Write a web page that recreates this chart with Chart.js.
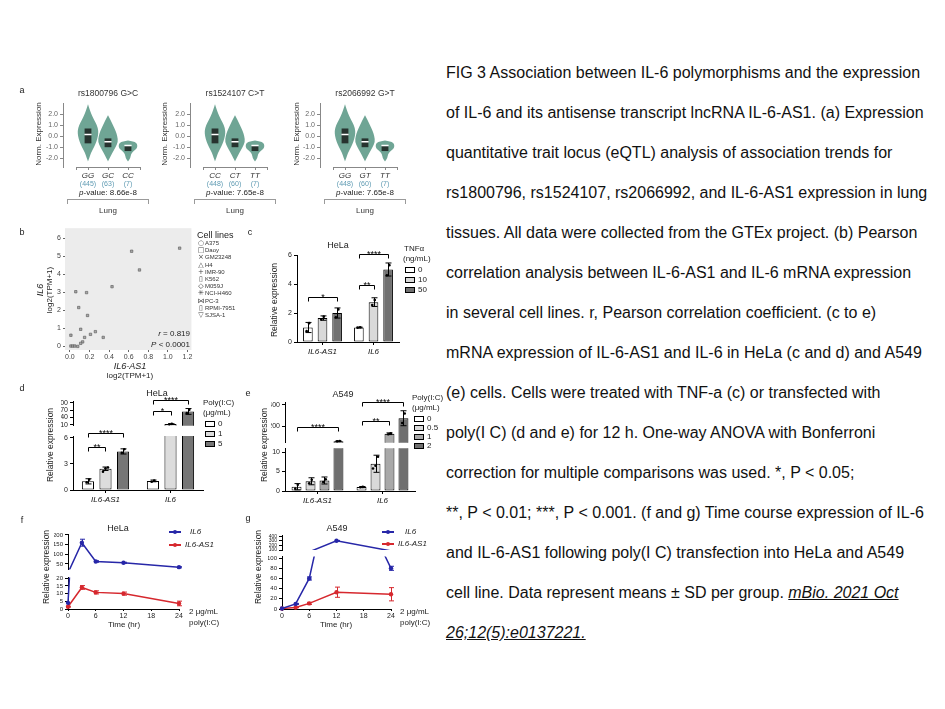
<!DOCTYPE html>
<html>
<head>
<meta charset="utf-8">
<title>FIG 3 IL-6 polymorphisms and IL-6-AS1</title>
<script src="https://cdn.jsdelivr.net/npm/chart.js@4.4.1/dist/chart.umd.min.js"></script>
<style>
  html, body { margin: 0; padding: 0; background: #fff; }
  #stage { position: relative; width: 945px; height: 709px; overflow: hidden;
           font-family: 'Liberation Sans', Arial, sans-serif; color: #222; }
  .lbl { position: absolute; white-space: nowrap; line-height: 1; }
  .sym { font-family: 'DejaVu Sans', sans-serif; }
  .caption { position: absolute; left: 446px; top: 53px; font-size: 16px; line-height: 40px;
             color: #111; white-space: nowrap; }
  .ref { font-style: italic; text-decoration: underline; }
</style>
</head>
<body>
<div id="stage">
  <div class="caption">FIG 3 Association between IL-6 polymorphisms and the expression<br>
of IL-6 and its antisense transcript lncRNA IL-6-AS1. (a) Expression<br>
quantitative trait locus (eQTL) analysis of association trends for<br>
rs1800796, rs1524107, rs2066992, and IL-6-AS1 expression in lung<br>
tissues. All data were collected from the GTEx project. (b) Pearson<br>
correlation analysis between IL-6-AS1 and IL-6 mRNA expression<br>
in several cell lines. r, Pearson correlation coefficient. (c to e)<br>
mRNA expression of IL-6-AS1 and IL-6 in HeLa (c and d) and A549<br>
(e) cells. Cells were treated with TNF-a (c) or transfected with<br>
poly(I C) (d and e) for 12 h. One-way ANOVA with Bonferroni<br>
correction for multiple comparisons was used. *, P &lt; 0.05;<br>
**, P &lt; 0.01; ***, P &lt; 0.001. (f and g) Time course expression of IL-6<br>
and IL-6-AS1 following poly(I C) transfection into HeLa and A549<br>
cell line. Data represent means ± SD per group. <span class="ref">mBio. 2021 Oct </span><br>
<span class="ref">26;12(5):e0137221.</span></div>
</div>
<script>
// ---------- data: panel a (GTEx eQTL, lung) ----------
const snpTitles = ['rs1800796 G>C', 'rs1524107 C>T', 'rs2066992 G>T'];
const snpGenotypes = [['GG', 'GC', 'CC'], ['CC', 'CT', 'TT'], ['GG', 'GT', 'TT']];
const snpCounts = [['(445)', '(63)', '(7)'], ['(448)', '(60)', '(7)'], ['(448)', '(60)', '(7)']];
const snpPValues = ['8.66e-8', '7.65e-8', '7.65e-8'];
const normTicks = [-2, -1, 0, 1, 2];
// violin outlines: expression level and half width (in category units)
const refLevels = [-2.3, -2.0, -1.5, -1.0, -0.5, 0.0, 0.5, 1.0, 1.5, 2.0, 2.5, 2.9];
const refWidths = [0, 0.06, 0.15, 0.3, 0.42, 0.5, 0.52, 0.45, 0.3, 0.17, 0.07, 0];
const hetLevels = [-2.3, -2.0, -1.5, -1.0, -0.5, 0.0, 0.5, 1.0, 1.5, 1.9];
const hetWidths = [0, 0.08, 0.22, 0.38, 0.5, 0.47, 0.38, 0.25, 0.12, 0];
const altLevels = [-2.3, -2.0, -1.6, -1.3, -1.1, -0.8, -0.6, -0.45, -0.4];
const altWidths = [0, 0.12, 0.15, 0.3, 0.45, 0.47, 0.42, 0.25, 0];
const boxLow = [-0.65, -1.0, -1.35];
const boxHigh = [0.7, -0.2, -0.9];
const boxMedian = [0.15, -0.5, -0.85];

// ---------- data: panel b (cell lines correlation) ----------
const cellLines = ['A375', 'Daoy', 'GM23248', 'H4', 'IMR-90', 'K562', 'M059J', 'NCI-H460', 'PC-3', 'RPMI-7951', 'SJSA-1'];
const cellSymbols = ['○', '□', '×', '△', '+', '▯', '◇', '✳', '⋈', '▯', '▽'];
const as1Expr = [1.12, 0.63, 0.71, 0.43, 0.06, 0.17, 0.09, 0.18, 0.11, 0.01, 0.26, 0.21, 0.34, 0.15, 0.13, 0.11, 0.01, 0.03, 0.05, 0.08];
const il6Expr = [5.44, 5.27, 4.23, 3.30, 3.02, 2.97, 2.14, 1.70, 0.93, 0.60, 0.80, 0.65, 0.48, 0.48, 0.23, 0.15, 0.0, 0.0, 0.0, -0.02];
const corrTicksX = [0, 0.2, 0.4, 0.6, 0.8, 1.0, 1.2];
const corrTicksY = [0, 1, 2, 3, 4, 5, 6];

// ---------- data: panels c-e (bars) ----------
const geneGroups = ['IL6-AS1', 'IL6'];
const tnfDoses = ['0', '10', '50'];
const tnfMeans = [[1.0, 1.0], [1.65, 2.75], [2.0, 5.0]];
const tnfSD = [[0.35, 0.03], [0.15, 0.3], [0.35, 0.45]];
const tnfReps = [[[0.75, 1.3], [0.98, 1.02]], [[1.55, 1.75], [2.55, 2.9]], [[1.7, 2.25], [4.6, 5.3]]];
const tnfTicks = [0, 2, 4, 6];
const tnfBrackets = [
  { group: 0, from: 0, to: 2, y: 3.1, label: '*' },
  { group: 1, from: 0, to: 1, y: 3.9, label: '**' },
  { group: 1, from: 0, to: 2, y: 6.1, label: '****' }
];

const helaPolyDoses = ['0', '1', '5'];
const helaPolyMeans = [[1.0, 1.05], [2.45, 13], [4.45, 65]];
const helaPolySD = [[0.3, 0.1], [0.2, 1.5], [0.3, 12]];
const helaPolyReps = [[[0.9, 1.2], [0.95, 1.1]], [[2.1, 2.5, 2.6], [12, 14]], [[4.3, 4.7], [58, 72]]];
const helaLowTicks = [0, 3, 6];
const helaHighTicks = [10, 40, 70, 100];
const helaLowBrackets = [
  { group: 0, from: 0, to: 1, y: 5.0, label: '**' },
  { group: 0, from: 0, to: 2, y: 6.6, label: '****' }
];
const helaHighBrackets = [
  { group: 1, from: 0, to: 1, y: 65, label: '*' },
  { group: 1, from: 0, to: 2, y: 112, label: '****' }
];

const a549PolyDoses = ['0', '0.5', '1', '2'];
const a549PolyMeans = [[1.1, 1.0], [2.5, 7.0], [2.7, 130], [60, 275]];
const a549PolySD = [[0.8, 0.15], [0.9, 2.2], [0.9, 8], [3, 70]];
const a549PolyReps = [[[0.6, 1.6], [0.95, 1.05]], [[2.0, 2.9], [5.8, 6.5, 8.8]], [[2.3, 3.0], [125, 135]], [[58, 62], [230, 320]]];
const a549LowTicks = [0, 5, 10];
const a549HighTicks = [200, 400];
const a549HighBrackets = [
  { group: 0, from: 0, to: 3, y: 190, label: '****' },
  { group: 1, from: 0, to: 2, y: 245, label: '**' },
  { group: 1, from: 0, to: 3, y: 425, label: '****' }
];

// ---------- data: panels f-g (time course, 2 ug/mL poly(I:C)) ----------
const timePoints = [0, 3, 6, 12, 24];
const timeTicks = [0, 6, 12, 18, 24];
const helaIL6 = [4, 160, 63, 56, 33];
const helaIL6SD = [0, 18, 4, 3, 3];
const helaAS1 = [1.5, 14, 10.8, 10, 3.6];
const helaAS1SD = [0.3, 1.2, 1.0, 1.0, 1.5];
const helaLineLowTicks = [0, 5, 10, 15, 20];
const helaLineHighTicks = [50, 100, 150, 200];
const a549IL6 = [1, 10, 60, 300, 80];
const a549IL6SD = [0, 1, 3, 8, 4];
const a549AS1 = [1, 3, 11, 33, 29];
const a549AS1SD = [0, 0.5, 2, 10, 13];
const a549LineLowTicks = [0, 20, 40, 60, 80, 100];
const a549LineHighTicks = [100, 200, 300, 400];

// ---------- styling ----------
const violinColor = '#6fa595';
const boxColor = '#27332f';
const countColor = '#5f9bb3';
const tnfColors = ['#ffffff', '#d9d9d9', '#717171'];
const helaPolyColors = ['#ffffff', '#dcdcdc', '#767676'];
const a549PolyColors = ['#ffffff', '#d9d9d9', '#a8a8a8', '#6f6f6f'];
const il6Color = '#2727a8';
const as1Color = '#d6282e';
const FONT = "'Liberation Sans', Arial, sans-serif";

Chart.defaults.font.family = FONT;
Chart.defaults.font.size = 7;
Chart.defaults.color = '#222';
Chart.defaults.animation = false;
Chart.defaults.events = [];
Chart.defaults.plugins.legend.display = false;
Chart.defaults.plugins.tooltip.enabled = false;

const stage = document.getElementById('stage');

function addText(html, x, y, opt) {
  opt = opt || {};
  const d = document.createElement('div');
  d.className = 'lbl' + (opt.cls ? ' ' + opt.cls : '');
  d.innerHTML = html;
  d.style.left = x + 'px';
  d.style.top = y + 'px';
  d.style.fontSize = (opt.size || 8) + 'px';
  if (opt.color) d.style.color = opt.color;
  if (opt.italic) d.style.fontStyle = 'italic';
  const shift = opt.align === 'left' ? '0' : opt.align === 'right' ? '-100%' : '-50%';
  d.style.transform = 'translate(' + shift + ',-50%)' + (opt.rotate ? ' rotate(-90deg)' : '');
  stage.appendChild(d);
}

function addBox(x, y, w, h, style) {
  const d = document.createElement('div');
  d.style.cssText = 'position:absolute;box-sizing:border-box;left:' + x + 'px;top:' + y + 'px;width:' +
    w + 'px;height:' + h + 'px;' + style;
  stage.appendChild(d);
}

function esc(s) {
  return s.replace(/&/g, '&amp;').replace(/</g, '&lt;').replace(/>/g, '&gt;');
}

// canvas placed so that the chart area lands on `area` (page pixels)
function makeChart(area, yw, xh, pad, config) {
  const cv = document.createElement('canvas');
  const w = area.r - area.l + yw + pad.l + pad.r;
  const h = area.b - area.t + xh + pad.t + pad.b;
  cv.width = w;
  cv.height = h;
  cv.style.cssText = 'position:absolute;left:' + (area.l - yw - pad.l) + 'px;top:' + (area.t - pad.t) +
    'px;width:' + w + 'px;height:' + h + 'px';
  stage.appendChild(cv);
  const o = config.options;
  o.responsive = false;
  o.maintainAspectRatio = false;
  o.devicePixelRatio = 1;
  o.layout = { padding: { left: pad.l, right: pad.r, top: pad.t, bottom: pad.b } };
  return new Chart(cv, config);
}

function valueAxis(min, max, ticks, width, opt) {
  opt = opt || {};
  return {
    type: 'linear', position: 'left', min: min, max: max,
    afterFit: s => { s.width = width; },
    afterBuildTicks: s => { s.ticks = ticks.map(v => ({ value: v })); },
    border: { display: opt.border !== false, color: opt.color || '#000', width: 1 },
    grid: { drawOnChartArea: false, drawTicks: true, tickLength: opt.tick || 3, color: opt.color || '#000' },
    ticks: { autoSkip: false, padding: opt.padding === undefined ? 2 : opt.padding,
             color: opt.labelColor || '#222', font: { size: opt.size || 7 },
             callback: opt.format || (v => v) }
  };
}

function groupAxis(show) {
  return {
    type: 'category', offset: true, display: show,
    afterFit: s => { s.height = show ? 16 : 0; },
    border: { color: '#000', width: 1 },
    grid: { offset: false, drawOnChartArea: false, tickLength: 3, color: '#000' },
    ticks: { padding: 2, color: '#111', font: { size: 8, style: 'italic' } }
  };
}

function timeAxis(show) {
  return {
    type: 'linear', min: 0, max: 24, display: show,
    afterFit: s => { s.height = show ? 10 : 0; },
    afterBuildTicks: s => { s.ticks = timeTicks.map(v => ({ value: v })); },
    border: { color: '#000', width: 1 },
    grid: { drawOnChartArea: false, tickLength: 2, color: '#000' },
    ticks: { autoSkip: false, maxRotation: 0, padding: 1, font: { size: 7 } }
  };
}

// ---------- plugins ----------
function violinLayer(shapes) {
  return {
    id: 'violinLayer',
    beforeDatasetsDraw(chart) {
      const ctx = chart.ctx, xs = chart.scales.x, ys = chart.scales.y;
      ctx.save();
      shapes.forEach((s, i) => {
        const pts = [];
        s.levels.forEach((lv, k) => pts.push([xs.getPixelForValue(i + s.widths[k]), ys.getPixelForValue(lv)]));
        for (let k = s.levels.length - 1; k >= 0; k--) {
          pts.push([xs.getPixelForValue(i - s.widths[k]), ys.getPixelForValue(s.levels[k])]);
        }
        const mid = (p, q) => [(p[0] + q[0]) / 2, (p[1] + q[1]) / 2];
        ctx.beginPath();
        const m0 = mid(pts[pts.length - 1], pts[0]);
        ctx.moveTo(m0[0], m0[1]);
        for (let k = 0; k < pts.length; k++) {
          const n = mid(pts[k], pts[(k + 1) % pts.length]);
          ctx.quadraticCurveTo(pts[k][0], pts[k][1], n[0], n[1]);
        }
        ctx.closePath();
        ctx.fillStyle = violinColor;
        ctx.fill();
        const x1 = xs.getPixelForValue(i - 0.17), x2 = xs.getPixelForValue(i + 0.17);
        const y1 = ys.getPixelForValue(boxHigh[i]), y2 = ys.getPixelForValue(boxLow[i]);
        ctx.fillStyle = boxColor;
        ctx.fillRect(x1, y1, x2 - x1, y2 - y1);
      });
      // category axis line, shorter than the plot like the GTEx portal draws it
      const yb = Math.round(chart.chartArea.bottom) + 0.5;
      ctx.strokeStyle = '#888';
      ctx.lineWidth = 1;
      ctx.beginPath();
      ctx.moveTo(xs.getPixelForValue(-0.6), yb);
      ctx.lineTo(xs.getPixelForValue(2.6), yb);
      ctx.stroke();
      ctx.restore();
    }
  };
}

function errorLayer(specs) {
  return {
    id: 'errorLayer',
    afterDatasetsDraw(chart) {
      const ctx = chart.ctx, a = chart.chartArea;
      ctx.save();
      ctx.beginPath();
      ctx.rect(a.left - 8, a.top, a.right - a.left + 16, a.bottom - a.top);
      ctx.clip();
      specs.forEach((sp, di) => {
        const meta = chart.getDatasetMeta(di);
        const ys = chart.scales[meta.yAxisID];
        const data = chart.data.datasets[di].data;
        meta.data.forEach((el, j) => {
          const raw = data[j];
          if (raw === null || raw === undefined) return;
          const v = typeof raw === 'object' ? raw.y : raw;
          const e = sp.sd[j];
          ctx.strokeStyle = sp.color;
          ctx.lineWidth = 1;
          if (e) {
            const yt = ys.getPixelForValue(v + e), yb = ys.getPixelForValue(v - e);
            const x = Math.round(el.x) + 0.5;
            ctx.beginPath();
            ctx.moveTo(x, yt); ctx.lineTo(x, yb);
            ctx.moveTo(x - sp.cap, yt); ctx.lineTo(x + sp.cap, yt);
            ctx.moveTo(x - sp.cap, yb); ctx.lineTo(x + sp.cap, yb);
            ctx.stroke();
          }
          if (sp.reps) {
            const vals = sp.reps[j];
            ctx.fillStyle = sp.color;
            vals.forEach((r, k) => {
              const off = (k - (vals.length - 1) / 2) * 2.5;
              ctx.beginPath();
              ctx.arc(el.x + off, ys.getPixelForValue(r), 1.3, 0, Math.PI * 2);
              ctx.fill();
            });
          }
        });
      });
      ctx.restore();
    }
  };
}

function bracketLayer(list) {
  return {
    id: 'bracketLayer',
    afterDatasetsDraw(chart) {
      const ctx = chart.ctx, ys = chart.scales.y;
      ctx.save();
      ctx.strokeStyle = '#000';
      ctx.fillStyle = '#000';
      ctx.lineWidth = 1;
      ctx.font = '9px ' + FONT;
      ctx.textAlign = 'center';
      ctx.textBaseline = 'alphabetic';
      list.forEach(b => {
        const x1 = Math.round(chart.getDatasetMeta(b.from).data[b.group].x) + 0.5;
        const x2 = Math.round(chart.getDatasetMeta(b.to).data[b.group].x) + 0.5;
        const y = Math.round(ys.getPixelForValue(b.y)) + 0.5;
        ctx.beginPath();
        ctx.moveTo(x1, y + 4); ctx.lineTo(x1, y); ctx.lineTo(x2, y); ctx.lineTo(x2, y + 4);
        ctx.stroke();
        ctx.fillText(b.label, (x1 + x2) / 2, y + 2.5);
      });
      ctx.restore();
    }
  };
}

const panelBackground = {
  id: 'panelBackground',
  beforeDraw(chart) {
    const a = chart.chartArea, ctx = chart.ctx;
    ctx.save();
    ctx.fillStyle = '#ececec';
    ctx.fillRect(a.left, a.top, a.right - a.left, a.bottom - a.top);
    ctx.restore();
  }
};

// ---------- panel a ----------
const violinShapes = [
  { levels: refLevels, widths: refWidths },
  { levels: hetLevels, widths: hetWidths },
  { levels: altLevels, widths: altWidths }
];
const snpAxisLeft = [63, 190, 320];
snpTitles.forEach((title, p) => {
  const l = snpAxisLeft[p];
  makeChart({ l: l, r: l + 82, t: 103, b: 167 }, 33, 25, { l: 0, r: 6, t: 6, b: 0 }, {
    type: 'scatter',
    data: {
      datasets: [{
        data: boxMedian.map((m, i) => ({ x: i, y: m })),
        pointStyle: 'line', pointRadius: 3.6, borderColor: '#ffffff', borderWidth: 1.6
      }]
    },
    options: {
      scales: {
        x: {
          type: 'linear', min: -1.25, max: 2.85, weight: 0,
          afterFit: s => { s.height = 13; },
          afterBuildTicks: s => { s.ticks = [-0.6, 0, 1, 2, 2.6].map(v => ({ value: v })); },
          border: { display: false },
          grid: { drawOnChartArea: false, tickLength: 3, color: '#888' },
          ticks: { autoSkip: false, maxRotation: 0, padding: 1, color: '#333', font: { size: 8, style: 'italic' },
                   callback: (v, i) => ['', ...snpGenotypes[p], ''][i] }
        },
        x2: {
          type: 'linear', position: 'bottom', min: -1.25, max: 2.85, weight: 1,
          afterFit: s => { s.height = 12; },
          afterBuildTicks: s => { s.ticks = [0, 1, 2].map(v => ({ value: v })); },
          border: { display: false },
          grid: { display: false, drawTicks: false },
          ticks: { autoSkip: false, maxRotation: 0, padding: 0, color: countColor, font: { size: 7 },
                   callback: (v, i) => snpCounts[p][i] }
        },
        y: valueAxis(-2.8, 3.0, normTicks, 33, { color: '#888', labelColor: '#666', format: v => v.toFixed(1) })
      }
    },
    plugins: [violinLayer(violinShapes)]
  });
  const cx = l + 45;
  addText(esc(title), cx, 93, { size: 8.5, color: '#333' });
  addText('<i>p</i>-value: ' + snpPValues[p], cx, 193, { size: 8, color: '#222' });
  addBox(l + 4, 199, 82, 5, 'border:1px solid #9a9a9a;border-bottom:none');
  addText('Lung', cx, 211, { size: 8, color: '#333' });
});
addText('Norm. Expression', 39, 134, { size: 8, rotate: true, color: '#333' });
addText('Norm. Expression', 165, 134, { size: 8, rotate: true, color: '#333' });
addText('Norm. Expression', 297, 134, { size: 8, rotate: true, color: '#333' });

// ---------- panel b ----------
makeChart({ l: 65, r: 193, t: 227, b: 350 }, 12, 10, { l: 0, r: 3, t: 5, b: 0 }, {
  type: 'scatter',
  data: {
    datasets: [{
      data: as1Expr.map((x, i) => ({ x: x, y: il6Expr[i] })),
      pointStyle: 'rect', pointRadius: 1.7, backgroundColor: '#a9a9a9', borderColor: '#555', borderWidth: 0.6
    }]
  },
  options: {
    scales: {
      x: {
        type: 'linear', min: -0.05, max: 1.24,
        afterFit: s => { s.height = 10; },
        afterBuildTicks: s => { s.ticks = corrTicksX.map(v => ({ value: v })); },
        border: { display: false },
        grid: { drawOnChartArea: false, tickLength: 2, color: '#666' },
        ticks: { autoSkip: false, maxRotation: 0, padding: 1, color: '#444', callback: v => v.toFixed(1) }
      },
      y: valueAxis(-0.22, 6.55, corrTicksY, 12, { border: false, color: '#666', labelColor: '#444', tick: 2, padding: 2 })
    }
  },
  plugins: [panelBackground]
});
addText('<i>r</i> = 0.819', 190, 334, { align: 'right', size: 8 });
addText('<i>P</i> &lt; 0.0001', 190, 345, { align: 'right', size: 8 });
addText('IL6', 40, 290, { size: 9, italic: true, rotate: true });
addText('log2(TPM+1)', 50, 290, { size: 8, rotate: true });
addText('IL6-AS1', 130, 366, { size: 9, italic: true });
addText('log2(TPM+1)', 130, 376, { size: 8 });
addText('Cell lines', 197, 235, { align: 'left', size: 9 });
cellLines.forEach((name, i) => {
  const y = 243 + i * 7.2;
  addText(cellSymbols[i], 201, y, { size: 7, cls: 'sym', color: '#444' });
  addText(name, 205, y, { align: 'left', size: 6, color: '#333' });
});

// ---------- bar panels ----------
// `floor`: lower limit of an upper (broken-axis) segment; bars that stay below it are left out there
function barSets(doses, means, colors, cp, bp, floor) {
  return doses.map((d, i) => ({
    label: d,
    data: means[i].map(v => (floor === undefined || v > floor) ? v : null),
    backgroundColor: colors[i], borderColor: '#000', borderWidth: 1,
    borderSkipped: false, categoryPercentage: cp, barPercentage: bp
  }));
}
function barErrors(sd, reps) {
  return sd.map((s, i) => ({ sd: s, reps: reps[i], color: '#000', cap: 3 }));
}
function barLegend(x, y0, step, labels, colors) {
  labels.forEach((t, i) => {
    const y = y0 + i * step;
    addBox(x, y - 3, 10, 6, 'border:1px solid #000;background:' + colors[i]);
    addText(t, x + 13, y, { align: 'left', size: 8 });
  });
}

// c: HeLa TNFa
makeChart({ l: 297, r: 399, t: 255, b: 342 }, 12, 16, { l: 0, r: 4, t: 14, b: 0 }, {
  type: 'bar',
  data: { labels: geneGroups, datasets: barSets(tnfDoses, tnfMeans, tnfColors, 0.86, 0.66) },
  options: { scales: { x: groupAxis(true), y: valueAxis(0, 6, tnfTicks, 12) } },
  plugins: [errorLayer(barErrors(tnfSD, tnfReps)), bracketLayer(tnfBrackets)]
});
addText('HeLa', 338, 245, { size: 9 });
addText('Relative expression', 274, 300, { size: 8.5, rotate: true });
addText('TNFα', 404, 249, { align: 'left', size: 8 });
addText('(ng/mL)', 403, 259, { align: 'left', size: 8 });
barLegend(405, 270, 10, tnfDoses, tnfColors);

// d: HeLa poly(I:C), broken axis
makeChart({ l: 73, r: 203, t: 401, b: 427 }, 12, 0, { l: 0, r: 4, t: 10, b: 5 }, {
  type: 'bar',
  data: { labels: geneGroups, datasets: barSets(helaPolyDoses, helaPolyMeans, helaPolyColors, 0.81, 0.69, 6) },
  options: { scales: { x: groupAxis(false), y: valueAxis(6, 108, helaHighTicks, 12) } },
  plugins: [errorLayer(barErrors(helaPolySD, helaPolyReps)), bracketLayer(helaHighBrackets)]
});
makeChart({ l: 73, r: 203, t: 436, b: 490 }, 12, 16, { l: 0, r: 4, t: 12, b: 0 }, {
  type: 'bar',
  data: { labels: geneGroups, datasets: barSets(helaPolyDoses, helaPolyMeans, helaPolyColors, 0.81, 0.69) },
  options: { scales: { x: groupAxis(true), y: valueAxis(0, 6.23, helaLowTicks, 12) } },
  plugins: [errorLayer(barErrors(helaPolySD, helaPolyReps)), bracketLayer(helaLowBrackets)]
});
addText('HeLa', 157, 393, { size: 9 });
addText('Relative expression', 50, 445, { size: 8.5, rotate: true });
addText('Poly(I:C)', 203, 403, { align: 'left', size: 8 });
addText('(μg/mL)', 203, 413, { align: 'left', size: 8 });
barLegend(205, 424, 10, helaPolyDoses, helaPolyColors);

// e: A549 poly(I:C), broken axis
makeChart({ l: 285, r: 415, t: 402, b: 444 }, 14, 0, { l: 0, r: 4, t: 10, b: 5 }, {
  type: 'bar',
  data: { labels: geneGroups, datasets: barSets(a549PolyDoses, a549PolyMeans, a549PolyColors, 0.86, 0.71, 45) },
  options: { scales: { x: groupAxis(false), y: valueAxis(45, 427, a549HighTicks, 14) } },
  plugins: [errorLayer(barErrors(a549PolySD, a549PolyReps)), bracketLayer(a549HighBrackets)]
});
makeChart({ l: 285, r: 415, t: 447, b: 491 }, 14, 16, { l: 0, r: 4, t: 5, b: 0 }, {
  type: 'bar',
  data: { labels: geneGroups, datasets: barSets(a549PolyDoses, a549PolyMeans, a549PolyColors, 0.86, 0.71) },
  options: { scales: { x: groupAxis(true), y: valueAxis(0, 11, a549LowTicks, 14) } },
  plugins: [errorLayer(barErrors(a549PolySD, a549PolyReps))]
});
addText('A549', 343, 394, { size: 9 });
addText('Relative expression', 264, 445, { size: 8.5, rotate: true });
addText('Poly(I:C)', 412, 398, { align: 'left', size: 8 });
addText('(μg/mL)', 412, 408, { align: 'left', size: 8 });
barLegend(414, 419, 9, a549PolyDoses, a549PolyColors);

// ---------- time course panels ----------
// lo/hi: value range of the segment; markers outside it are hidden, lines still run through
function lineSets(il6, as1, clip, lo, hi) {
  const base = {
    borderWidth: 1.5, pointBorderWidth: 0, tension: 0, clip: clip,
    pointRadius: c => (c.raw && (c.raw.y < lo || c.raw.y > hi)) ? 0 : 2.2
  };
  return [
    Object.assign({ label: 'IL6', data: timePoints.map((t, i) => ({ x: t, y: il6[i] })),
                    borderColor: il6Color, backgroundColor: il6Color }, base),
    Object.assign({ label: 'IL6-AS1', data: timePoints.map((t, i) => ({ x: t, y: as1[i] })),
                    borderColor: as1Color, backgroundColor: as1Color }, base)
  ];
}
const lowClip = { left: 5, right: 5, top: 0, bottom: 5 };
const highClip = { left: 5, right: 5, top: 5, bottom: 0 };
function lineErrors(il6SD, as1SD) {
  return [{ sd: il6SD, color: il6Color, cap: 2.5 }, { sd: as1SD, color: as1Color, cap: 2.5 }];
}
function lineLegend(x, textX1, textX2, y1, y2) {
  [[il6Color, 'IL6', textX1, y1], [as1Color, 'IL6-AS1', textX2, y2]].forEach(row => {
    addBox(x - 6, row[3] - 0.75, 12, 1.5, 'background:' + row[0]);
    addBox(x - 2, row[3] - 2, 4, 4, 'border-radius:50%;background:' + row[0]);
    addText(row[1], row[2], row[3], { align: 'left', size: 8, italic: true });
  });
}

// f: HeLa
makeChart({ l: 68, r: 179, t: 534, b: 570 }, 14, 0, { l: 0, r: 6, t: 6, b: 5 }, {
  type: 'line',
  data: { datasets: lineSets(helaIL6, helaAS1, highClip, 22, Infinity) },
  options: { scales: { x: timeAxis(false), y: valueAxis(22, 205, helaLineHighTicks, 14, { size: 6 }) } },
  plugins: [errorLayer(lineErrors(helaIL6SD, helaAS1SD))]
});
makeChart({ l: 68, r: 179, t: 576, b: 609 }, 14, 10, { l: 0, r: 6, t: 4, b: 0 }, {
  type: 'line',
  data: { datasets: lineSets(helaIL6, helaAS1, lowClip, -Infinity, 20.4) },
  options: { scales: { x: timeAxis(true), y: valueAxis(0, 20.4, helaLineLowTicks, 14, { size: 6 }) } },
  plugins: [errorLayer(lineErrors(helaIL6SD, helaAS1SD))]
});
addText('HeLa', 118, 528, { size: 9 });
addText('Relative expression', 46, 567, { size: 8.5, rotate: true });
addText('Time (hr)', 124, 625, { size: 8 });
addText('2 μg/mL', 189, 612, { align: 'left', size: 8 });
addText('poly(I:C)', 189, 623, { align: 'left', size: 8 });
lineLegend(175, 190, 185, 532, 545);

// g: A549
makeChart({ l: 282, r: 391, t: 535, b: 550 }, 14, 0, { l: 0, r: 6, t: 6, b: 5 }, {
  type: 'line',
  data: { datasets: lineSets(a549IL6, a549AS1, highClip, 100, Infinity) },
  options: { scales: { x: timeAxis(false), y: valueAxis(100, 425, a549LineHighTicks, 14, { size: 5 }) } },
  plugins: [errorLayer(lineErrors(a549IL6SD, a549AS1SD))]
});
makeChart({ l: 282, r: 391, t: 555, b: 609 }, 14, 10, { l: 0, r: 6, t: 4, b: 0 }, {
  type: 'line',
  data: { datasets: lineSets(a549IL6, a549AS1, lowClip, -Infinity, 103) },
  options: { scales: { x: timeAxis(true), y: valueAxis(0, 103, a549LineLowTicks, 14, { size: 6 }) } },
  plugins: [errorLayer(lineErrors(a549IL6SD, a549AS1SD))]
});
addText('A549', 337, 528, { size: 9 });
addText('Relative expression', 258, 567, { size: 8.5, rotate: true });
addText('Time (hr)', 336, 625, { size: 8 });
addText('2 μg/mL', 400, 612, { align: 'left', size: 8 });
addText('poly(I:C)', 400, 623, { align: 'left', size: 8 });
lineLegend(388, 405, 398, 532, 544);

// ---------- panel letters ----------
[['a', 22, 90], ['b', 22, 232], ['c', 250, 232], ['d', 22, 388], ['e', 248, 393], ['f', 22, 520], ['g', 248, 518]]
  .forEach(p => addText(p[0], p[1], p[2], { size: 9 }));
</script>
</body>
</html>
